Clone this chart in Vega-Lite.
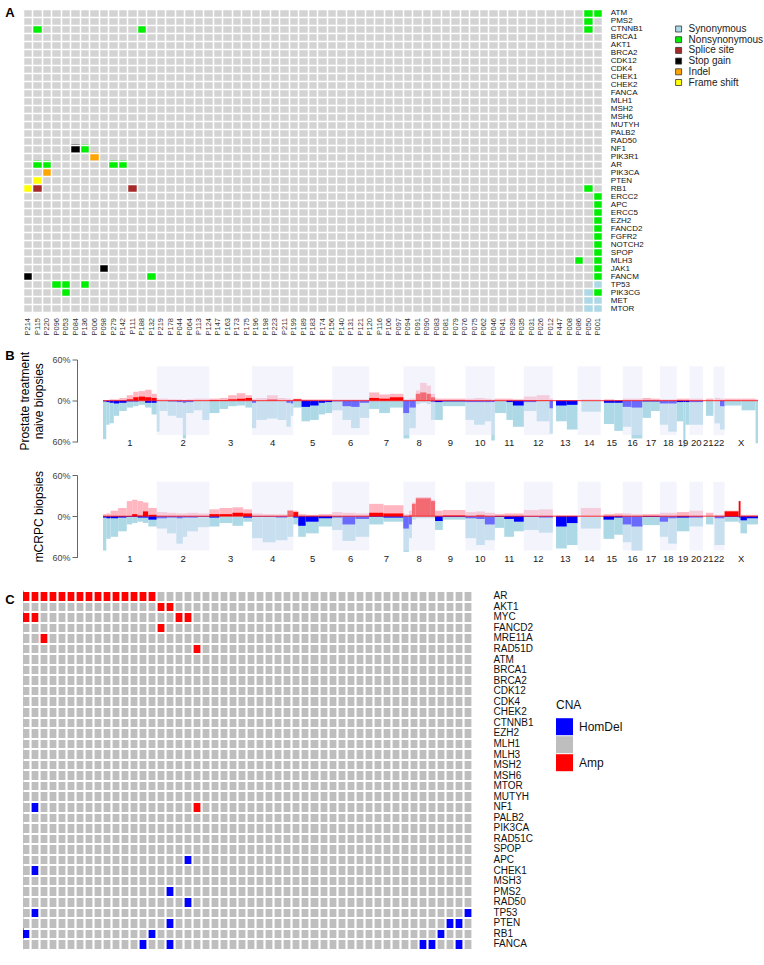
{
"$schema": "https://vega.github.io/schema/vega-lite/v6.json",
"padding": {"left": 5, "top": 5, "right": 0, "bottom": 0},
"config": {"font": "Liberation Sans", "view": {"stroke": null}},
"spacing": 13.5,
"resolve": {"scale": {"color": "independent"}, "legend": {"color": "independent"}},
"datasets": {
"mutA": [
{"patient":"P115","gene":"CTNNB1","type":"Nonsynonymous"},
{"patient":"P188","gene":"CTNNB1","type":"Nonsynonymous"},
{"patient":"P050","gene":"CTNNB1","type":"Nonsynonymous"},
{"patient":"P050","gene":"ATM","type":"Nonsynonymous"},
{"patient":"P001","gene":"ATM","type":"Nonsynonymous"},
{"patient":"P050","gene":"PMS2","type":"Nonsynonymous"},
{"patient":"P084","gene":"NF1","type":"Stop gain"},
{"patient":"P136","gene":"NF1","type":"Nonsynonymous"},
{"patient":"P006","gene":"PIK3R1","type":"Indel"},
{"patient":"P115","gene":"AR","type":"Nonsynonymous"},
{"patient":"P220","gene":"AR","type":"Nonsynonymous"},
{"patient":"P279","gene":"AR","type":"Nonsynonymous"},
{"patient":"P142","gene":"AR","type":"Nonsynonymous"},
{"patient":"P220","gene":"PIK3CA","type":"Indel"},
{"patient":"P115","gene":"PTEN","type":"Frame shift"},
{"patient":"P214","gene":"RB1","type":"Frame shift"},
{"patient":"P115","gene":"RB1","type":"Splice site"},
{"patient":"P111","gene":"RB1","type":"Splice site"},
{"patient":"P050","gene":"RB1","type":"Nonsynonymous"},
{"patient":"P001","gene":"ERCC2","type":"Nonsynonymous"},
{"patient":"P001","gene":"APC","type":"Nonsynonymous"},
{"patient":"P001","gene":"ERCC5","type":"Nonsynonymous"},
{"patient":"P001","gene":"EZH2","type":"Nonsynonymous"},
{"patient":"P001","gene":"FANCD2","type":"Nonsynonymous"},
{"patient":"P001","gene":"FGFR2","type":"Nonsynonymous"},
{"patient":"P001","gene":"NOTCH2","type":"Nonsynonymous"},
{"patient":"P001","gene":"SPOP","type":"Nonsynonymous"},
{"patient":"P001","gene":"MLH3","type":"Nonsynonymous"},
{"patient":"P086","gene":"MLH3","type":"Nonsynonymous"},
{"patient":"P001","gene":"JAK1","type":"Nonsynonymous"},
{"patient":"P098","gene":"JAK1","type":"Stop gain"},
{"patient":"P001","gene":"FANCM","type":"Nonsynonymous"},
{"patient":"P214","gene":"FANCM","type":"Stop gain"},
{"patient":"P132","gene":"FANCM","type":"Nonsynonymous"},
{"patient":"P096","gene":"TP53","type":"Nonsynonymous"},
{"patient":"P053","gene":"TP53","type":"Nonsynonymous"},
{"patient":"P136","gene":"TP53","type":"Nonsynonymous"},
{"patient":"P001","gene":"TP53","type":"Synonymous"},
{"patient":"P053","gene":"PIK3CG","type":"Nonsynonymous"},
{"patient":"P050","gene":"PIK3CG","type":"Synonymous"},
{"patient":"P001","gene":"PIK3CG","type":"Nonsynonymous"},
{"patient":"P050","gene":"MET","type":"Synonymous"},
{"patient":"P001","gene":"MET","type":"Synonymous"},
{"patient":"P050","gene":"MTOR","type":"Synonymous"},
{"patient":"P001","gene":"MTOR","type":"Synonymous"}
],
"cnaC": [
{"col":"c01","gene":"AR","cna":"Amp"},{"col":"c02","gene":"AR","cna":"Amp"},{"col":"c03","gene":"AR","cna":"Amp"},{"col":"c04","gene":"AR","cna":"Amp"},{"col":"c05","gene":"AR","cna":"Amp"},{"col":"c06","gene":"AR","cna":"Amp"},{"col":"c07","gene":"AR","cna":"Amp"},{"col":"c08","gene":"AR","cna":"Amp"},{"col":"c09","gene":"AR","cna":"Amp"},{"col":"c10","gene":"AR","cna":"Amp"},{"col":"c11","gene":"AR","cna":"Amp"},{"col":"c12","gene":"AR","cna":"Amp"},{"col":"c13","gene":"AR","cna":"Amp"},{"col":"c14","gene":"AR","cna":"Amp"},{"col":"c15","gene":"AR","cna":"Amp"},
{"col":"c16","gene":"AKT1","cna":"Amp"},{"col":"c17","gene":"AKT1","cna":"Amp"},
{"col":"c01","gene":"MYC","cna":"Amp"},{"col":"c02","gene":"MYC","cna":"Amp"},{"col":"c18","gene":"MYC","cna":"Amp"},{"col":"c19","gene":"MYC","cna":"Amp"},
{"col":"c16","gene":"FANCD2","cna":"Amp"},
{"col":"c03","gene":"MRE11A","cna":"Amp"},
{"col":"c20","gene":"RAD51D","cna":"Amp"},
{"col":"c20","gene":"NF1","cna":"Amp"},{"col":"c02","gene":"NF1","cna":"HomDel"},
{"col":"c19","gene":"APC","cna":"HomDel"},
{"col":"c02","gene":"CHEK1","cna":"HomDel"},
{"col":"c17","gene":"PMS2","cna":"HomDel"},
{"col":"c19","gene":"RAD50","cna":"HomDel"},
{"col":"c02","gene":"TP53","cna":"HomDel"},{"col":"c50","gene":"TP53","cna":"HomDel"},
{"col":"c17","gene":"PTEN","cna":"HomDel"},{"col":"c48","gene":"PTEN","cna":"HomDel"},{"col":"c49","gene":"PTEN","cna":"HomDel"},
{"col":"c01","gene":"RB1","cna":"HomDel"},{"col":"c15","gene":"RB1","cna":"HomDel"},{"col":"c47","gene":"RB1","cna":"HomDel"},
{"col":"c14","gene":"FANCA","cna":"HomDel"},{"col":"c17","gene":"FANCA","cna":"HomDel"},{"col":"c45","gene":"FANCA","cna":"HomDel"},{"col":"c46","gene":"FANCA","cna":"HomDel"},{"col":"c49","gene":"FANCA","cna":"HomDel"}
],
"chr": [
{"c":"1","s":0,"e":249.3,"even":false},{"c":"2","s":249.3,"e":492.5,"even":true},{"c":"3","s":492.5,"e":690.5,"even":false},{"c":"4","s":690.5,"e":881.7,"even":true},{"c":"5","s":881.7,"e":1062.6,"even":false},{"c":"6","s":1062.6,"e":1233.7,"even":true},{"c":"7","s":1233.7,"e":1392.8,"even":false},{"c":"8","s":1392.8,"e":1539.2,"even":true},{"c":"9","s":1539.2,"e":1680.4,"even":false},{"c":"10","s":1680.4,"e":1815.9,"even":true},{"c":"11","s":1815.9,"e":1950.9,"even":false},{"c":"12","s":1950.9,"e":2084.8,"even":true},{"c":"13","s":2084.8,"e":2200.0,"even":false},{"c":"14","s":2200.0,"e":2307.3,"even":true},{"c":"15","s":2307.3,"e":2409.8,"even":false},{"c":"16","s":2409.8,"e":2500.2,"even":true},{"c":"17","s":2500.2,"e":2581.4,"even":false},{"c":"18","s":2581.4,"e":2659.5,"even":true},{"c":"19","s":2659.5,"e":2718.6,"even":false},{"c":"20","s":2718.6,"e":2781.6,"even":true},{"c":"21","s":2781.6,"e":2829.7,"even":false},{"c":"22","s":2829.7,"e":2881.0,"even":true},{"c":"X","s":2881.0,"e":3036.3,"even":false}
],
"seg": [
{"p":1,"s":0,"e":15,"g":1,"l":-56,"d":-1},
{"p":1,"s":15,"e":30,"g":1,"l":-35,"d":-2},
{"p":1,"s":30,"e":50,"g":2,"l":-33,"d":-3},
{"p":1,"s":50,"e":75,"g":2,"l":-22,"d":-4},
{"p":1,"s":75,"e":110,"g":4,"l":-15,"d":-3},
{"p":1,"s":110,"e":140,"g":8,"a":2,"l":-10,"d":-1},
{"p":1,"s":140,"e":165,"g":13,"a":5,"l":-8,"d":-1},
{"p":1,"s":165,"e":195,"g":14,"a":6,"l":-6},
{"p":1,"s":195,"e":225,"g":16,"a":5,"l":-10,"d":-3},
{"p":1,"s":225,"e":249.3,"g":10,"a":4,"l":-20,"d":-3},
{"p":1,"s":249.3,"e":262,"g":3,"l":-45},
{"p":1,"s":262,"e":300,"g":3,"l":-15},
{"p":1,"s":300,"e":340,"g":2,"l":-22,"d":-1},
{"p":1,"s":340,"e":370,"g":2,"l":-25,"d":-2},
{"p":1,"s":370,"e":385,"g":1,"l":-55,"d":-3},
{"p":1,"s":385,"e":420,"g":2,"l":-18,"d":-2},
{"p":1,"s":420,"e":460,"g":3,"l":-14},
{"p":1,"s":460,"e":492.5,"g":3,"l":-28},
{"p":1,"s":492.5,"e":540,"g":3,"a":1,"l":-18},
{"p":1,"s":540,"e":580,"g":4,"a":1,"l":-12},
{"p":1,"s":580,"e":620,"g":8,"a":2,"l":-8},
{"p":1,"s":620,"e":660,"g":11,"a":3,"l":-7},
{"p":1,"s":660,"e":690.5,"g":8,"a":4,"l":-10},
{"p":1,"s":690.5,"e":710,"g":3,"l":-40,"d":-3},
{"p":1,"s":710,"e":760,"g":4,"l":-28},
{"p":1,"s":760,"e":810,"g":8,"a":2,"l":-26},
{"p":1,"s":810,"e":850,"g":4,"l":-28},
{"p":1,"s":850,"e":870,"g":3,"l":-38,"d":-3},
{"p":1,"s":870,"e":881.7,"g":2,"l":-22,"d":-4},
{"p":1,"s":881.7,"e":920,"g":3,"a":2,"l":-10},
{"p":1,"s":920,"e":960,"g":2,"l":-30,"d":-9},
{"p":1,"s":960,"e":1000,"g":2,"l":-28,"d":-7},
{"p":1,"s":1000,"e":1030,"g":2,"l":-20,"d":-3},
{"p":1,"s":1030,"e":1062.6,"g":2,"l":-18,"d":-2},
{"p":1,"s":1062.6,"e":1110,"g":2,"l":-14,"d":-1},
{"p":1,"s":1110,"e":1150,"g":2,"l":-28,"d":-8},
{"p":1,"s":1150,"e":1190,"g":2,"l":-40,"d":-9},
{"p":1,"s":1190,"e":1233.7,"g":2,"l":-25,"d":-3},
{"p":1,"s":1233.7,"e":1280,"g":12,"a":4,"l":-12},
{"p":1,"s":1280,"e":1330,"g":9,"a":3,"l":-18},
{"p":1,"s":1330,"e":1392.8,"g":10,"a":5,"l":-10},
{"p":1,"s":1392.8,"e":1420,"g":2,"l":-55,"d":-18},
{"p":1,"s":1420,"e":1450,"g":3,"l":-40,"d":-10},
{"p":1,"s":1450,"e":1470,"g":15,"a":10,"l":-5},
{"p":1,"s":1470,"e":1500,"g":26,"a":12,"l":-3},
{"p":1,"s":1500,"e":1520,"g":22,"a":10,"l":-5},
{"p":1,"s":1520,"e":1539.2,"g":10,"a":5,"l":-28,"d":-2},
{"p":1,"s":1539.2,"e":1575,"g":3,"l":-28,"d":-2},
{"p":1,"s":1575,"e":1680.4,"g":3,"l":-8,"d":-1},
{"p":1,"s":1680.4,"e":1720,"g":3,"l":-28,"d":-2},
{"p":1,"s":1720,"e":1770,"g":4,"l":-35,"d":-2},
{"p":1,"s":1770,"e":1800,"g":3,"l":-30,"d":-2},
{"p":1,"s":1800,"e":1815.9,"g":2,"l":-58,"d":-2},
{"p":1,"s":1815.9,"e":1870,"g":3,"l":-18},
{"p":1,"s":1870,"e":1900,"g":3,"l":-28,"d":-2},
{"p":1,"s":1900,"e":1950.9,"g":2,"l":-38,"d":-7},
{"p":1,"s":1950.9,"e":2010,"g":6,"a":1,"l":-15,"d":-2},
{"p":1,"s":2010,"e":2070,"g":8,"a":1,"l":-30},
{"p":1,"s":2070,"e":2084.8,"g":3,"l":-48,"d":-11},
{"p":1,"s":2100,"e":2150,"g":1,"l":-30,"d":-7},
{"p":1,"s":2150,"e":2200,"g":1,"l":-42,"d":-6},
{"p":1,"s":2218,"e":2307.3,"g":2,"l":-16},
{"p":1,"s":2322,"e":2370,"g":2,"l":-34,"d":-3},
{"p":1,"s":2370,"e":2409.8,"g":1,"l":-44,"d":-3},
{"p":1,"s":2409.8,"e":2450,"g":3,"l":-38,"d":-9},
{"p":1,"s":2450,"e":2500.2,"g":3,"l":-55,"d":-10},
{"p":1,"s":2500.2,"e":2540,"g":4,"l":-25,"d":-1},
{"p":1,"s":2540,"e":2581.4,"g":3,"l":-15,"d":-1},
{"p":1,"s":2581.4,"e":2620,"g":2,"l":-35,"d":-4},
{"p":1,"s":2620,"e":2659.5,"g":2,"l":-45,"d":-4},
{"p":1,"s":2659.5,"e":2690,"g":3,"l":-30,"d":-2},
{"p":1,"s":2690,"e":2700,"g":3,"l":-68,"d":-2},
{"p":1,"s":2700,"e":2718.6,"g":3,"l":-35,"d":-2},
{"p":1,"s":2718.6,"e":2781.6,"g":3,"l":-35,"d":-2},
{"p":1,"s":2795,"e":2829.7,"g":3,"l":-22},
{"p":1,"s":2835,"e":2860,"g":4,"l":-33},
{"p":1,"s":2860,"e":2881,"g":3,"l":-42,"d":-8},
{"p":1,"s":2881,"e":2960,"g":3,"l":-7},
{"p":1,"s":2960,"e":3025,"g":3,"l":-14},
{"p":1,"s":3025,"e":3036.3,"g":2,"l":-62},
{"p":2,"s":0,"e":15,"g":3,"l":-50,"d":-2},
{"p":2,"s":15,"e":35,"g":4,"l":-33,"d":-3},
{"p":2,"s":35,"e":70,"g":8,"l":-30,"d":-3},
{"p":2,"s":70,"e":110,"g":12,"l":-22,"d":-2},
{"p":2,"s":110,"e":135,"g":22,"l":-12,"d":-1},
{"p":2,"s":135,"e":160,"g":24,"a":3,"l":-10,"d":-1},
{"p":2,"s":160,"e":185,"g":22,"a":1,"l":-8,"d":-2},
{"p":2,"s":185,"e":210,"g":20,"a":7,"l":-10,"d":-2},
{"p":2,"s":210,"e":249.3,"g":12,"a":2,"l":-15,"d":-5},
{"p":2,"s":249.3,"e":297,"g":6,"l":-18,"d":-3},
{"p":2,"s":297,"e":340,"g":5,"l":-25,"d":-2},
{"p":2,"s":340,"e":370,"g":4,"l":-40,"d":-3},
{"p":2,"s":370,"e":390,"g":4,"l":-30,"d":-2},
{"p":2,"s":390,"e":440,"g":5,"l":-22,"d":-2},
{"p":2,"s":440,"e":492.5,"g":4,"l":-16,"d":-1},
{"p":2,"s":492.5,"e":540,"g":10,"a":3,"l":-15,"d":-2},
{"p":2,"s":540,"e":600,"g":12,"a":3,"l":-10},
{"p":2,"s":600,"e":650,"g":13,"a":5,"l":-14},
{"p":2,"s":650,"e":690.5,"g":10,"a":4,"l":-8,"d":-2},
{"p":2,"s":690.5,"e":740,"g":4,"l":-32,"d":-1},
{"p":2,"s":740,"e":800,"g":3,"l":-38,"d":-1},
{"p":2,"s":800,"e":855,"g":3,"l":-35,"d":-2},
{"p":2,"s":855,"e":881.7,"g":9,"a":8,"l":-30},
{"p":2,"s":881.7,"e":905,"g":8,"a":6,"l":-12,"d":-2},
{"p":2,"s":905,"e":940,"g":3,"l":-30,"d":-14},
{"p":2,"s":940,"e":1000,"g":2,"l":-25,"d":-8},
{"p":2,"s":1000,"e":1062.6,"g":3,"l":-15,"d":-3},
{"p":2,"s":1062.6,"e":1110,"g":6,"l":-20,"d":-2},
{"p":2,"s":1110,"e":1170,"g":5,"l":-36,"d":-12},
{"p":2,"s":1170,"e":1233.7,"g":4,"l":-30,"d":-4},
{"p":2,"s":1233.7,"e":1300,"g":18,"a":5,"l":-12,"d":-1},
{"p":2,"s":1300,"e":1392.8,"g":16,"a":4,"l":-8,"d":-2},
{"p":2,"s":1392.8,"e":1418,"g":3,"l":-52,"d":-18},
{"p":2,"s":1418,"e":1432,"g":8,"a":2,"l":-32,"d":-12},
{"p":2,"s":1432,"e":1450,"g":20,"a":18,"l":-5},
{"p":2,"s":1450,"e":1520,"g":28,"a":26,"l":-3},
{"p":2,"s":1520,"e":1539.2,"g":24,"a":22,"l":-3},
{"p":2,"s":1539.2,"e":1575,"g":8,"l":-20,"d":-7},
{"p":2,"s":1575,"e":1680.4,"g":9,"a":1,"l":-5,"d":-1},
{"p":2,"s":1680.4,"e":1730,"g":6,"l":-32,"d":-3},
{"p":2,"s":1730,"e":1770,"g":7,"a":2,"l":-42,"d":-4},
{"p":2,"s":1770,"e":1815.9,"g":5,"l":-35,"d":-12},
{"p":2,"s":1815.9,"e":1860,"g":3,"l":-17,"d":-1},
{"p":2,"s":1860,"e":1905,"g":4,"l":-30,"d":-4},
{"p":2,"s":1905,"e":1950.9,"g":4,"l":-22,"d":-8},
{"p":2,"s":1950.9,"e":2020,"g":9,"l":-20,"d":-1},
{"p":2,"s":2020,"e":2084.8,"g":10,"l":-24,"d":-2},
{"p":2,"s":2100,"e":2150,"g":1,"l":-47,"d":-15},
{"p":2,"s":2150,"e":2200,"g":1,"l":-42,"d":-10},
{"p":2,"s":2215,"e":2307.3,"g":12,"l":-18},
{"p":2,"s":2320,"e":2370,"g":3,"l":-33,"d":-5},
{"p":2,"s":2370,"e":2409.8,"g":4,"l":-27,"d":-2},
{"p":2,"s":2409.8,"e":2450,"g":4,"l":-38,"d":-12},
{"p":2,"s":2450,"e":2500.2,"g":3,"l":-50,"d":-15},
{"p":2,"s":2500.2,"e":2581.4,"g":3,"l":-13,"d":-1},
{"p":2,"s":2581.4,"e":2620,"g":5,"l":-30,"d":-8},
{"p":2,"s":2620,"e":2659.5,"g":5,"l":-40,"d":-3},
{"p":2,"s":2659.5,"e":2718.6,"g":6,"l":-22,"d":-2},
{"p":2,"s":2718.6,"e":2781.6,"g":8,"l":-15,"d":-2},
{"p":2,"s":2795,"e":2829.7,"g":5,"l":-12},
{"p":2,"s":2835,"e":2881,"g":2,"l":-42,"d":-3},
{"p":2,"s":2881,"e":2947,"g":8,"a":7,"l":-8,"d":-1},
{"p":2,"s":2947,"e":2955,"g":22,"a":22,"l":-10,"d":-2},
{"p":2,"s":2955,"e":2985,"g":2,"l":-25,"d":-6},
{"p":2,"s":2985,"e":3036.3,"g":2,"l":-12,"d":-3}
]
},
"vconcat": [
{
 "width": 579.3, "height": 303,
 "view": {"fill": "#d3d3d3", "stroke": null},
 "title": {"text": "A", "anchor": "start", "frame": "group", "fontSize": 13, "fontWeight": "bold", "offset": -15, "dx": -17.7, "color": "#000"},
 "data": {"name": "mutA"},
 "mark": {"type": "rect"},
 "encoding": {
  "x": {"field": "patient", "type": "nominal",
   "scale": {"domain": ["P214","P115","P220","P096","P053","P084","P136","P006","P098","P279","P142","P111","P188","P132","P219","P178","P044","P064","P113","P124","P147","P163","P173","P175","P196","P198","P223","P211","P199","P189","P183","P174","P156","P140","P131","P121","P120","P116","P106","P097","P094","P091","P090","P083","P081","P079","P076","P075","P062","P046","P041","P039","P035","P031","P026","P012","P447","P008","P086","P050","P001"], "paddingInner": 0, "paddingOuter": 0},
   "axis": {"orient": "bottom", "title": null, "labelAngle": -90, "labelFontSize": 7.5, "labelColor": "#333", "labelPadding": 5.5, "ticks": false, "domain": false, "grid": true, "gridColor": "#ffffff", "gridWidth": 1.5, "tickBand": "extent", "zindex": 1}},
  "y": {"field": "gene", "type": "nominal",
   "scale": {"domain": ["ATM","PMS2","CTNNB1","BRCA1","AKT1","BRCA2","CDK12","CDK4","CHEK1","CHEK2","FANCA","MLH1","MSH2","MSH6","MUTYH","PALB2","RAD50","NF1","PIK3R1","AR","PIK3CA","PTEN","RB1","ERCC2","APC","ERCC5","EZH2","FANCD2","FGFR2","NOTCH2","SPOP","MLH3","JAK1","FANCM","TP53","PIK3CG","MET","MTOR"], "paddingInner": 0, "paddingOuter": 0},
   "axis": {"orient": "right", "title": null, "labelFontSize": 8, "labelColor": "#111", "labelPadding": 8, "ticks": false, "domain": false, "grid": true, "gridColor": "#ffffff", "gridWidth": 1.5, "tickBand": "extent", "zindex": 1}},
  "color": {"field": "type", "type": "nominal",
   "scale": {"domain": ["Synonymous","Nonsynonymous","Splice site","Stop gain","Indel","Frame shift"], "range": ["#add8e6","#00ee00","#a52a2a","#000000","#ffa500","#ffff00"]},
   "legend": {"title": null, "orient": "none", "legendX": 650.6, "legendY": 15, "symbolType": "square", "symbolSize": 36, "symbolStrokeColor": "#333", "symbolStrokeWidth": 0.8, "labelFontSize": 10, "labelOffset": 5, "rowPadding": 0.7, "labelColor": "#222"}}
 }
},
{
 "width": 735, "height": 82.4,
 "title": {"text": "B", "anchor": "start", "frame": "group", "fontSize": 13, "fontWeight": "bold", "offset": -12, "dx": -17.7, "color": "#000"},
 "layer": [
  {
   "data": {"name": "seg"},
   "transform": [{"filter": "datum.p == 1"}, {"fold": ["g","a","l","d"], "as": ["k","v"]}, {"filter": "isValid(datum.v) && datum.v != 0"}],
   "mark": {"type": "rect"},
   "encoding": {
    "x": {"field": "s", "type": "quantitative", "scale": {"domain": [-371, 3036.3], "nice": false, "zero": false},
     "axis": {"title": "\u00a0", "titleFontSize": 9, "titlePadding": 5.5, "labels": false, "ticks": false, "domain": false, "grid": false}},
    "x2": {"field": "e"},
    "y": {"field": "v", "type": "quantitative", "scale": {"domain": [-60, 60], "nice": false, "zero": false},
     "axis": {"values": [-60,-30,0,30,60], "labelExpr": "abs(datum.value) + '%'", "offset": -54, "title": ["Prostate treatment","naive biopsies"], "titleFontSize": 12, "titleFontWeight": "normal", "titleColor": "#000", "titlePadding": 6, "labelFontSize": 9, "labelColor": "#444", "grid": false, "tickSize": 5, "tickColor": "#666", "domainColor": "#666", "labelPadding": 2}},
    "y2": {"datum": 0},
    "color": {"field": "k", "type": "nominal", "scale": {"domain": ["g","a","l","d"], "range": ["#ffb6c1","#ff0000","#add8e6","#0000ff"]}, "legend": null}
   }
  },
  {
   "data": {"name": "chr"},
   "transform": [{"filter": "datum.even"}],
   "mark": {"type": "rect", "color": "#e7e7fb", "opacity": 0.46},
   "encoding": {
    "x": {"field": "s", "type": "quantitative"},
    "x2": {"field": "e"},
    "y": {"datum": 50, "type": "quantitative"},
    "y2": {"datum": -50}
   }
  },
  {
   "data": {"values": [{}]},
   "mark": {"type": "rule", "color": "#ff0000", "strokeWidth": 0.8},
   "encoding": {
    "x": {"datum": 0, "type": "quantitative"},
    "x2": {"datum": 3036.3},
    "y": {"datum": 0, "type": "quantitative"}
   }
  },
  {
   "data": {"name": "chr"},
   "transform": [{"calculate": "(datum.s + datum.e) / 2", "as": "mid"}],
   "mark": {"type": "text", "fontSize": 9.5, "color": "#222", "baseline": "middle"},
   "encoding": {
    "x": {"field": "mid", "type": "quantitative"},
    "y": {"datum": -62, "type": "quantitative"},
    "text": {"field": "c"}
   }
  }
 ]
},
{
 "width": 735, "height": 82.4,
 "layer": [
  {
   "data": {"name": "seg"},
   "transform": [{"filter": "datum.p == 2"}, {"fold": ["g","a","l","d"], "as": ["k","v"]}, {"filter": "isValid(datum.v) && datum.v != 0"}],
   "mark": {"type": "rect"},
   "encoding": {
    "x": {"field": "s", "type": "quantitative", "scale": {"domain": [-371, 3036.3], "nice": false, "zero": false},
     "axis": {"title": "\u00a0", "titleFontSize": 9, "titlePadding": 5.5, "labels": false, "ticks": false, "domain": false, "grid": false}},
    "x2": {"field": "e"},
    "y": {"field": "v", "type": "quantitative", "scale": {"domain": [-60, 60], "nice": false, "zero": false},
     "axis": {"values": [-60,-30,0,30,60], "labelExpr": "abs(datum.value) + '%'", "offset": -54, "title": "mCRPC biopsies", "titleFontSize": 12, "titleFontWeight": "normal", "titleColor": "#000", "titlePadding": 6, "labelFontSize": 9, "labelColor": "#444", "grid": false, "tickSize": 5, "tickColor": "#666", "domainColor": "#666", "labelPadding": 2}},
    "y2": {"datum": 0},
    "color": {"field": "k", "type": "nominal", "scale": {"domain": ["g","a","l","d"], "range": ["#ffb6c1","#ff0000","#add8e6","#0000ff"]}, "legend": null}
   }
  },
  {
   "data": {"name": "chr"},
   "transform": [{"filter": "datum.even"}],
   "mark": {"type": "rect", "color": "#e7e7fb", "opacity": 0.46},
   "encoding": {
    "x": {"field": "s", "type": "quantitative"},
    "x2": {"field": "e"},
    "y": {"datum": 50, "type": "quantitative"},
    "y2": {"datum": -50}
   }
  },
  {
   "data": {"values": [{}]},
   "mark": {"type": "rule", "color": "#ff0000", "strokeWidth": 0.8},
   "encoding": {
    "x": {"datum": 0, "type": "quantitative"},
    "x2": {"datum": 3036.3},
    "y": {"datum": 0, "type": "quantitative"}
   }
  },
  {
   "data": {"name": "chr"},
   "transform": [{"calculate": "(datum.s + datum.e) / 2", "as": "mid"}],
   "mark": {"type": "text", "fontSize": 9.5, "color": "#222", "baseline": "middle"},
   "encoding": {
    "x": {"field": "mid", "type": "quantitative"},
    "y": {"datum": -62, "type": "quantitative"},
    "text": {"field": "c"}
   }
  }
 ]
},
{
 "width": 449, "height": 358.7,
 "view": {"fill": "#bebebe", "stroke": null},
 "title": {"text": "C", "anchor": "start", "frame": "group", "fontSize": 13, "fontWeight": "bold", "offset": -21, "dx": -17.7, "color": "#000"},
 "data": {"name": "cnaC"},
 "mark": {"type": "rect", "clip": true},
 "encoding": {
  "x": {"field": "col", "type": "nominal",
   "scale": {"domain": ["c01","c02","c03","c04","c05","c06","c07","c08","c09","c10","c11","c12","c13","c14","c15","c16","c17","c18","c19","c20","c21","c22","c23","c24","c25","c26","c27","c28","c29","c30","c31","c32","c33","c34","c35","c36","c37","c38","c39","c40","c41","c42","c43","c44","c45","c46","c47","c48","c49","c50"], "range": [-2.4, 449], "paddingInner": 0, "paddingOuter": 0},
   "axis": {"title": null, "labels": false, "ticks": false, "domain": false, "grid": true, "gridColor": "#ffffff", "gridWidth": 2.2, "tickBand": "extent", "zindex": 1}},
  "y": {"field": "gene", "type": "nominal",
   "scale": {"domain": ["AR","AKT1","MYC","FANCD2","MRE11A","RAD51D","ATM","BRCA1","BRCA2","CDK12","CDK4","CHEK2","CTNNB1","EZH2","MLH1","MLH3","MSH2","MSH6","MTOR","MUTYH","NF1","PALB2","PIK3CA","RAD51C","SPOP","APC","CHEK1","MSH3","PMS2","RAD50","TP53","PTEN","RB1","FANCA"], "paddingInner": 0, "paddingOuter": 0},
   "axis": {"orient": "right", "title": null, "labelFontSize": 10, "labelColor": "#111", "labelPadding": 21, "ticks": false, "domain": false, "grid": true, "gridColor": "#ffffff", "gridWidth": 2.2, "tickBand": "extent", "zindex": 1}},
  "color": {"field": "cna", "type": "nominal",
   "scale": {"domain": ["HomDel","none","Amp"], "range": ["#0000ff","#bebebe","#ff0000"]},
   "legend": {"title": "CNA", "orient": "none", "legendX": 533, "legendY": 109.7, "symbolType": "square", "symbolSize": 289, "symbolStrokeWidth": 0, "labelFontSize": 12, "titleFontSize": 12, "titleFontWeight": "normal", "titlePadding": 6, "labelOffset": 6, "rowPadding": 1, "labelColor": "#111", "titleColor": "#111", "labelExpr": "datum.label == 'none' ? '' : datum.label"}}
 }
}
]
}
